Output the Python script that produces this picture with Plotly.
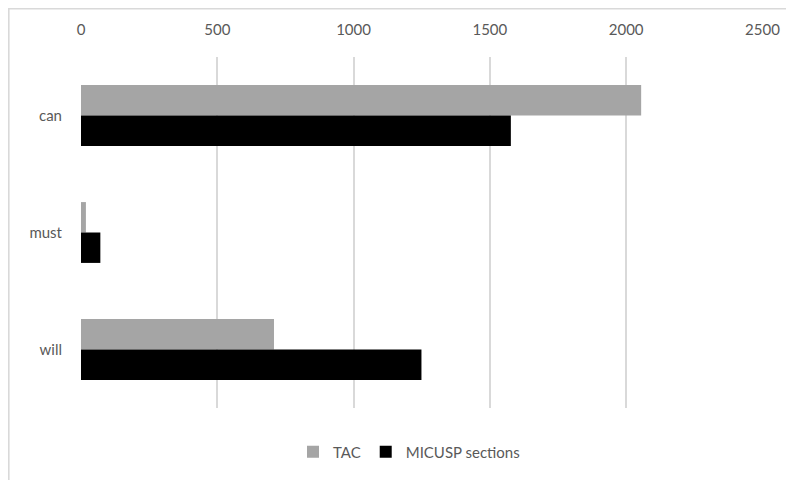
import plotly.graph_objects as go

categories = ["can", "must", "will"]
tac_values = [2055, 18, 708]
micusp_values = [1577, 71, 1249]
x_ticks = [0, 500, 1000, 1500, 2000, 2500]

# page body adds an 8px offset; layout is expressed in figure pixels
W, H = 794, 480
L, R, T, B = 73, 39, 49, 80
pw, ph = W - L - R, H - T - B

def px(x):
    return (x - L) / pw

def py(y):
    return 1 - (y - T) / ph

font = dict(family="Lato, 'Open Sans', sans-serif", size=15, color="#595959")

fig = go.Figure()
fig.add_trace(go.Bar(y=categories, x=tac_values, name="TAC", orientation="h",
                     marker=dict(color="#a5a5a5", line=dict(width=0))))
fig.add_trace(go.Bar(y=categories, x=micusp_values, name="MICUSP sections", orientation="h",
                     marker=dict(color="#000000", line=dict(width=0))))

fig.update_layout(
    width=W, height=H,
    margin=dict(l=L, r=R, t=T, b=B, autoexpand=False),
    paper_bgcolor="white", plot_bgcolor="white",
    font=font,
    barmode="group", bargap=0.48, bargroupgap=0,
    legend=dict(orientation="h", x=px(401), xanchor="center", y=py(444), yanchor="middle",
                font=font, itemwidth=30, traceorder="normal"),
    xaxis=dict(side="top", range=[0, 2502], tickvals=x_ticks, showgrid=True,
               gridcolor="#d9d9d9", gridwidth=2, zeroline=False, showline=False,
               ticks="", ticklabelstandoff=18, tickfont=font, automargin=False),
    yaxis=dict(autorange="reversed", showgrid=False, zeroline=False, showline=False,
               ticks="", ticklabelstandoff=18, tickfont=font, automargin=False),
    shapes=[
        dict(type="line", xref="paper", yref="paper", x0=px(0), x1=px(W), y0=py(0.6), y1=py(0.6),
             line=dict(color="#d9d9d9", width=2)),
        dict(type="line", xref="paper", yref="paper", x0=px(0.6), x1=px(0.6), y0=py(0), y1=py(H),
             line=dict(color="#d9d9d9", width=2)),
    ],
)

fig.write_html("out.html")
